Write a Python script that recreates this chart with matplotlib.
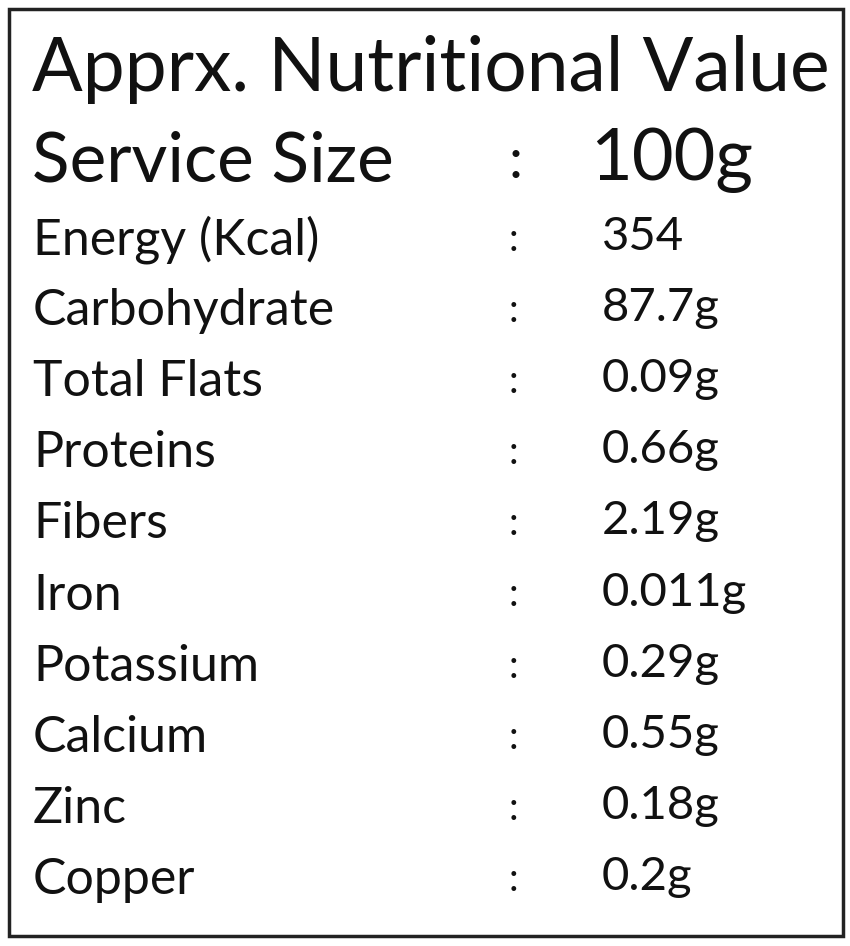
import matplotlib.pyplot as plt
from matplotlib.patches import Rectangle

W, H = 850, 946

title = "Apprx. Nutritional Value"
serving_label = "Service Size"
serving_value = "100g"
nutrients = ["Energy (Kcal)", "Carbohydrate", "Total Flats", "Proteins", "Fibers",
             "Iron", "Potassium", "Calcium", "Zinc", "Copper"]
values = ["354", "87.7g", "0.09g", "0.66g", "2.19g",
          "0.011g", "0.29g", "0.55g", "0.18g", "0.2g"]

plt.rcParams["font.family"] = "Lato"

fig = plt.figure(figsize=(W / 100, H / 100), dpi=100)
fig.patch.set_facecolor("white")


def fy(y):
    return 1 - y / H


def fx(x):
    return x / W


fig.patches.append(Rectangle((fx(9), fy(936)), fx(834), 927 / H, fill=False,
                             edgecolor="#222", lw=2.5, transform=fig.transFigure))

fig.text(fx(32), fy(70), title, fontsize=54, va="center", ha="left", color="#111")
fig.text(fx(32), fy(162), serving_label, fontsize=50, va="center", ha="left", color="#111")
fig.text(fx(515), fy(162), ":", fontsize=40, va="center", ha="center", color="#111")
fig.text(fx(590), fy(160), serving_value, fontsize=52, va="center", ha="left", color="#111")

y0, dy = 240, 71.1
for i, (n, v) in enumerate(zip(nutrients, values)):
    y = y0 + i * dy
    fig.text(fx(33), fy(y), n, fontsize=36, va="center", ha="left", color="#111")
    fig.text(fx(513), fy(y), ":", fontsize=28, va="center", ha="center", color="#111")
    fig.text(fx(602), fy(y - 3), v, fontsize=34, va="center", ha="left", color="#111")

fig.savefig("out.png", dpi=100, facecolor="white")
